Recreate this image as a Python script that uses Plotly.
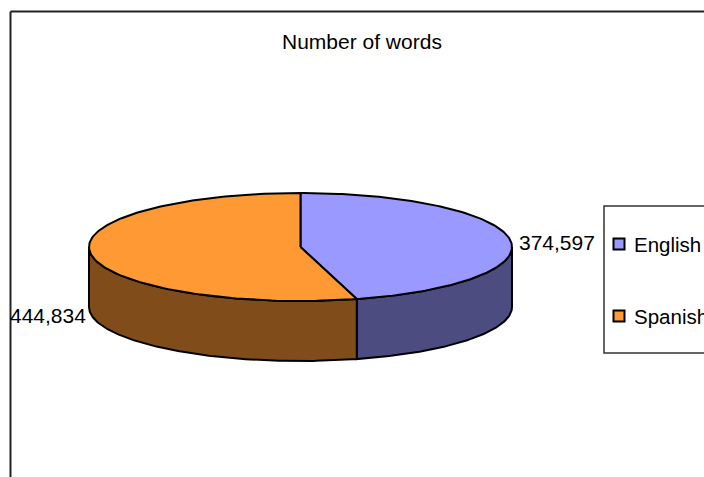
import numpy as np
import plotly.graph_objects as go

# Data
categories = ["English", "Spanish"]
word_counts = [374597, 444834]
top_colors = ["#9999FF", "#FF9933"]
side_colors = ["#4C4C80", "#804D1A"]
chart_title = "Number of words"

# Canvas and pie geometry (pixel units on hidden axes)
W, H = 704, 477
CX, CY = 300.5, 247.0      # centre of the top ellipse
RX, RY = 211.5, 54.0       # ellipse radii
DEPTH = 60.0               # pie thickness
FONT = "Liberation Sans, Arial, sans-serif"


def pt(theta_deg, dy=0.0):
    t = np.radians(theta_deg)
    return CX + RX * np.cos(t), CY - RY * np.sin(t) + dy


def arc(t0, t1, n=160, dy=0.0):
    ts = np.linspace(t0, t1, n)
    xs, ys = pt(ts, dy)
    return list(xs), list(ys)


# Slice angles: start at 12 o'clock, run clockwise
total = sum(word_counts)
starts, ends = [], []
a = 90.0
for v in word_counts:
    starts.append(a)
    a -= 360.0 * v / total
    ends.append(a)

fig = go.Figure()

# Visible outer walls (front half of the ellipse, theta in [-180, 0])
for s, e, col in zip(starts, ends, side_colors):
    lo, hi = max(e, -180.0), min(s, 0.0)
    if hi <= lo:
        lo2, hi2 = max(e + 360, -180.0), min(s + 360, 0.0)
        if hi2 <= lo2:
            continue
        lo, hi = lo2, hi2
    tx, ty = arc(hi, lo)
    bx, by = arc(lo, hi, dy=DEPTH)
    fig.add_trace(go.Scatter(
        x=tx + bx + [tx[0]], y=ty + by + [ty[0]],
        mode="lines", fill="toself", fillcolor=col,
        line=dict(color="black", width=2), hoverinfo="skip", showlegend=False))

# Top faces
for s, e, col, name, v in zip(starts, ends, top_colors, categories, word_counts):
    ax, ay = arc(s, e)
    fig.add_trace(go.Scatter(
        x=[CX] + ax + [CX], y=[CY] + ay + [CY],
        mode="lines", fill="toself", fillcolor=col,
        line=dict(color="black", width=2), name=name,
        text=f"{name}: {v:,}", hoverinfo="text", showlegend=False))

# Value labels beside each slice
label_pos = [(517, 242, "left"), (88, 315, "right")]
for v, (lx, ly, anc) in zip(word_counts, label_pos):
    fig.add_annotation(x=lx, y=ly, text=f"{v:,}", showarrow=False,
                       xanchor=anc, yanchor="middle",
                       font=dict(family=FONT, size=21, color="black"))

# Legend key
leg_x0, leg_y0, leg_y1 = 604, 206, 353
fig.add_shape(type="rect", x0=leg_x0, x1=W + 20, y0=leg_y0, y1=leg_y1,
              xref="x", yref="y", line=dict(color="#333333", width=1.5),
              fillcolor="white", layer="below")
item_y = [244, 316]
fig.add_trace(go.Scatter(
    x=[619] * len(categories), y=item_y, mode="markers",
    marker=dict(symbol="square", size=11, color=top_colors,
                line=dict(color="black", width=2)),
    hoverinfo="skip", showlegend=False))
for name, yy in zip(categories, item_y):
    fig.add_annotation(x=632, y=yy, text=name, showarrow=False,
                       xanchor="left", yanchor="middle",
                       font=dict(family=FONT, size=20.5, color="black"))

# Title
fig.add_annotation(x=362, y=41, text=chart_title, showarrow=False,
                   xanchor="center", yanchor="middle",
                   font=dict(family=FONT, size=21, color="black"))

# Chart-area frame (top and left edges)
fig.add_shape(type="line", x0=10.5, x1=W + 5, y0=11.5, y1=11.5,
              xref="x", yref="y", line=dict(color="#222222", width=2))
fig.add_shape(type="line", x0=10.5, x1=10.5, y0=11.5, y1=H + 5,
              xref="x", yref="y", line=dict(color="#222222", width=2))

fig.update_layout(
    width=W, height=H,
    margin=dict(l=0, r=0, t=0, b=0, autoexpand=False),
    paper_bgcolor="white", plot_bgcolor="white",
    xaxis=dict(range=[0, W], visible=False, fixedrange=True),
    yaxis=dict(range=[H, 0], visible=False, fixedrange=True),
    showlegend=False,
)

fig.write_html("out.html")
